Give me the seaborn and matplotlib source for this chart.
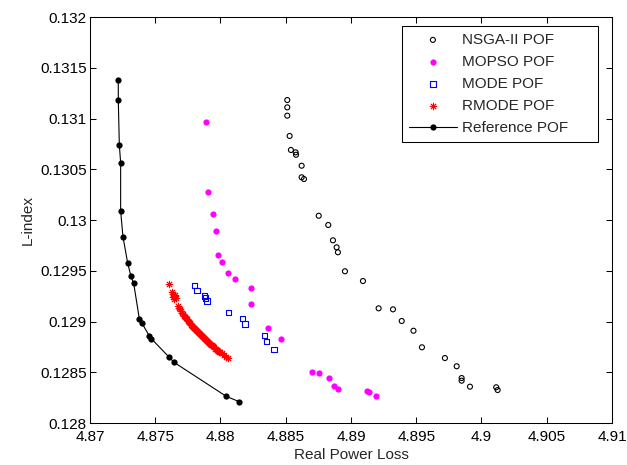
import numpy as np
import pandas as pd
import matplotlib
matplotlib.use("Agg")
import matplotlib.pyplot as plt
import seaborn as sns

# Frentes de Pareto (perda de potência real x L-index)
nsga_x = [4.88512, 4.88512, 4.88512, 4.88530, 4.88540, 4.88576, 4.88579, 4.88622,
          4.88622, 4.88640, 4.88753, 4.88826, 4.88862, 4.88890, 4.88900, 4.88954,
          4.89092, 4.89212, 4.89322, 4.89389, 4.89479, 4.89544, 4.89720, 4.89810,
          4.89848, 4.89848, 4.89912, 4.90113, 4.90124]
nsga_y = [0.131182, 0.131110, 0.131028, 0.130828, 0.130690, 0.130667, 0.130643, 0.130535,
          0.130421, 0.130404, 0.130042, 0.129951, 0.129800, 0.129731, 0.129682, 0.129495,
          0.129399, 0.129130, 0.129120, 0.129005, 0.128909, 0.128746, 0.128640, 0.128559,
          0.128443, 0.128417, 0.128358, 0.128352, 0.128325]

mopso_x = [4.87891, 4.87902, 4.87945, 4.87966, 4.87983, 4.88012, 4.88058, 4.88113,
           4.88231, 4.88231, 4.88362, 4.88461, 4.88701, 4.88757, 4.88829, 4.88867,
           4.88903, 4.89123, 4.89140, 4.89189]
mopso_y = [0.130966, 0.130276, 0.130062, 0.129889, 0.129655, 0.129583, 0.129478, 0.129419,
           0.129327, 0.129175, 0.128939, 0.128825, 0.128505, 0.128496, 0.128446, 0.128365,
           0.128338, 0.128315, 0.128302, 0.128269]

mode_x = [4.87802, 4.87822, 4.87876, 4.87884, 4.87897, 4.88060, 4.88170, 4.88190,
          4.88336, 4.88354, 4.88410]
mode_y = [0.129357, 0.129307, 0.129251, 0.129229, 0.129202, 0.129087, 0.129028, 0.128978,
          0.128864, 0.128805, 0.128726]

rmode_x = [4.87602, 4.87628, 4.87636, 4.87644, 4.87651, 4.87640, 4.87659, 4.87644,
           4.87674, 4.87682, 4.87690, 4.87697, 4.87705, 4.87713, 4.87720, 4.87728,
           4.87736, 4.87743, 4.87751, 4.87759, 4.87766, 4.87774, 4.87782, 4.87789,
           4.87797, 4.87805, 4.87812, 4.87820, 4.87828, 4.87835, 4.87843, 4.87851,
           4.87858, 4.87866, 4.87874, 4.87881, 4.87889, 4.87897, 4.87904, 4.87912,
           4.87920, 4.87927, 4.87935, 4.87943, 4.87950, 4.87958, 4.87966, 4.87973,
           4.87981, 4.87989, 4.87996, 4.88012, 4.88027, 4.88042, 4.88057]
rmode_y = [0.129374, 0.129291, 0.129271, 0.129251, 0.129261, 0.129241, 0.129232, 0.129222,
           0.129153, 0.129133, 0.129123, 0.129103, 0.129084, 0.129074, 0.129054, 0.129044,
           0.129034, 0.129025, 0.129005, 0.128995, 0.128985, 0.128966, 0.128956, 0.128946,
           0.128936, 0.128926, 0.128916, 0.128906, 0.128897, 0.128887, 0.128877, 0.128867,
           0.128857, 0.128847, 0.128837, 0.128828, 0.128818, 0.128808, 0.128798, 0.128788,
           0.128778, 0.128768, 0.128764, 0.128754, 0.128744, 0.128734, 0.128729, 0.128719,
           0.128709, 0.128700, 0.128695, 0.128685, 0.128670, 0.128655, 0.128640]

ref_x = [4.87217, 4.87217, 4.87225, 4.87235, 4.87235, 4.87253, 4.87289, 4.87314,
         4.87335, 4.87378, 4.87399, 4.87454, 4.87470, 4.87608, 4.87644, 4.88044, 4.88144]
ref_y = [0.131379, 0.131179, 0.130739, 0.130565, 0.130089, 0.129833, 0.129576, 0.129445,
         0.129376, 0.129028, 0.128982, 0.128860, 0.128831, 0.128647, 0.128598, 0.128263,
         0.128210]

xticks = [4.87, 4.875, 4.88, 4.885, 4.89, 4.895, 4.9, 4.905, 4.91]
xtick_labels = ["4.87", "4.875", "4.88", "4.885", "4.89", "4.895", "4.9", "4.905", "4.91"]
yticks = [0.128, 0.1285, 0.129, 0.1295, 0.13, 0.1305, 0.131, 0.1315, 0.132]
ytick_labels = ["0.128", "0.1285", "0.129", "0.1295", "0.13", "0.1305", "0.131", "0.1315", "0.132"]

sns.set_style("white")
plt.rcParams["font.family"] = ["Liberation Sans", "DejaVu Sans"]

fig = plt.figure(figsize=(6.27, 4.65), dpi=100)
ax = fig.add_axes([0.1435, 0.0903, 0.8325, 0.8731])

sns.scatterplot(x=nsga_x, y=nsga_y, ax=ax, marker="o", s=13, facecolor="none",
                edgecolor="black", linewidth=0.8, label="NSGA-II POF")
sns.scatterplot(x=mopso_x, y=mopso_y, ax=ax, marker="o", s=20, color="#ff00ff",
                edgecolor="#ff00ff", linewidth=0, label="MOPSO POF")
sns.scatterplot(x=mode_x, y=mode_y, ax=ax, marker="s", s=16, facecolor="none",
                edgecolor="#0000ff", linewidth=0.8, label="MODE POF")
sns.scatterplot(x=rmode_x, y=rmode_y, ax=ax, marker=(8, 2, 0), s=22, color="#ff0000",
                linewidth=0.7, label="RMODE POF")
sns.lineplot(x=ref_x, y=ref_y, ax=ax, sort=False, estimator=None, color="black",
             linewidth=0.8, marker="o", markersize=4.5, markeredgewidth=0,
             label="Reference POF")

ax.set_xlim(4.87, 4.91)
ax.set_ylim(0.128, 0.132)
ax.set_xticks(xticks)
ax.set_xticklabels(xtick_labels)
ax.set_yticks(yticks)
ax.set_yticklabels(ytick_labels)
ax.tick_params(direction="in", length=4, width=0.75, labelsize=11, colors="black",
               top=True, right=True, bottom=True, left=True)
ax.tick_params(axis="x", pad=5)
ax.tick_params(axis="y", pad=2.5)
for sp in ax.spines.values():
    sp.set_color("black")
    sp.set_linewidth(0.75)
ax.set_xlabel("Real Power Loss", fontsize=11, labelpad=3)
ax.set_ylabel("L-index", fontsize=11, labelpad=4)

leg = ax.legend(loc="upper left", bbox_to_anchor=(0.5977, 0.697, 0.3755, 0.2808),
                mode="expand", borderaxespad=0, fontsize=11, frameon=True,
                fancybox=False, framealpha=1, edgecolor="black", labelspacing=0.53,
                handlelength=3.15, handletextpad=0.35, borderpad=0.45)
leg.get_frame().set_linewidth(0.75)

fig.savefig("out.png", dpi=100)
